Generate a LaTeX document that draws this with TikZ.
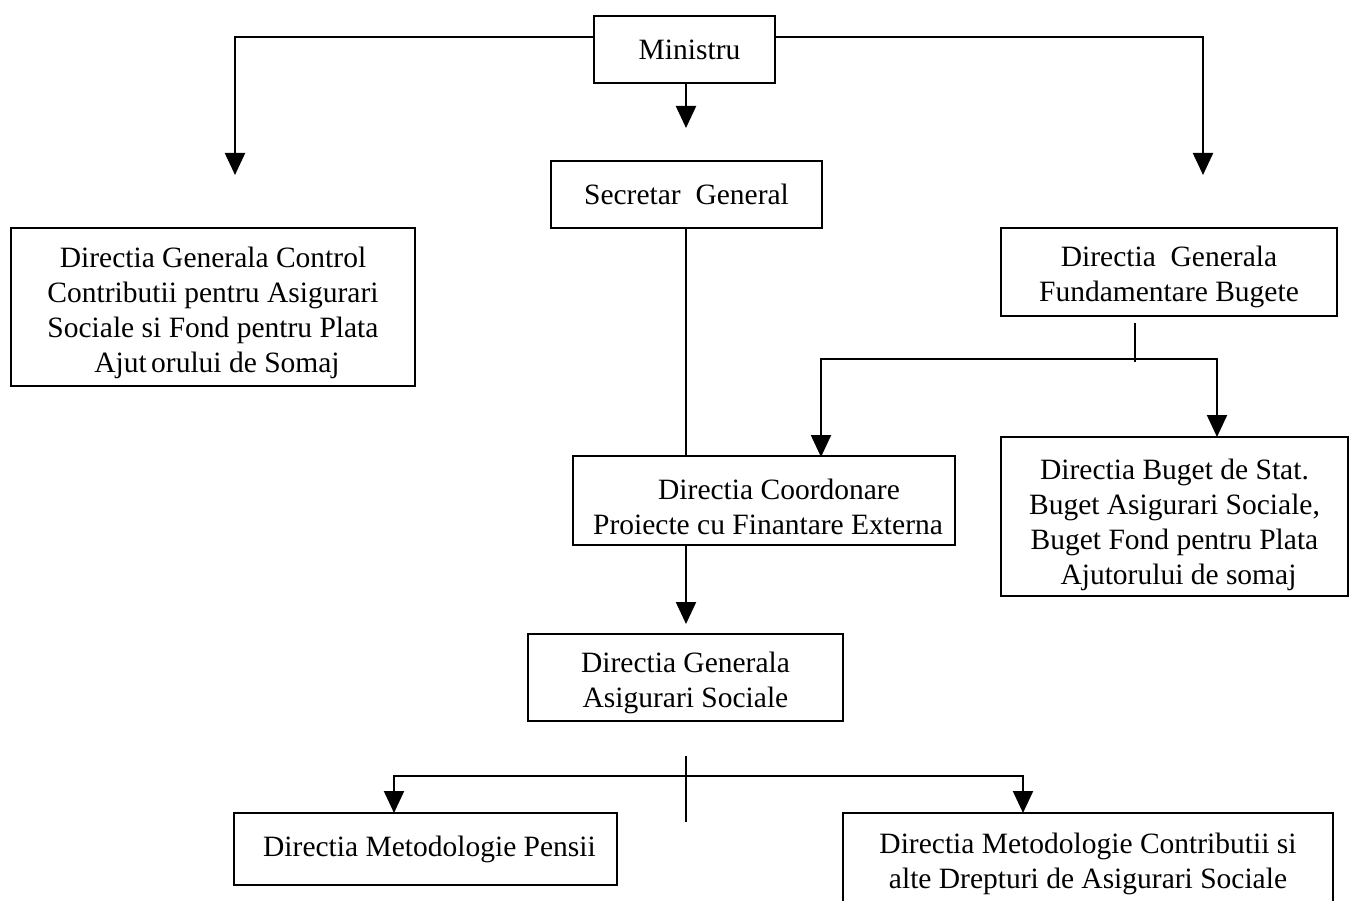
\documentclass[tikz,border=0pt]{standalone}
\usepackage{fontspec}
\setmainfont{Liberation Serif}
\usetikzlibrary{arrows.meta}
\newcommand\dl[2][-6pt]{\raisebox{#1}[\height][\depth]{#2}}
\begin{document}
\begin{tikzpicture}[x=1pt,y=-1pt,
  box/.style={draw, line width=2.2pt, inner sep=0pt, align=center,
    font=\fontsize{29.5}{35}\selectfont},
  ln/.style={line width=2.2pt},
  arr/.style={line width=2.2pt, -{Triangle[width=20pt,length=22pt]}}]
\useasboundingbox (0,0) rectangle (1349,901);
\clip (0,0) rectangle (1349,901);

% boxes
\node[box, minimum width=181pt, minimum height=67pt] (min) at (684.5,49.5) {\hspace{10pt}Ministru};
\node[box, minimum width=271pt, minimum height=67pt] (sec) at (686.5,194.5) {Secretar~ General};
\node[box, minimum width=404pt, minimum height=158pt] (ctrl) at (213,307)
  {\dl{Directia Generala Control}\\\dl{Contributii pentru Asigurari}\\\dl{Sociale si Fond pentru Plata}\\\dl{\hspace{8pt}Ajut\hspace{0.15em}orului de Somaj}};
\node[box, minimum width=336pt, minimum height=88pt] (fund) at (1169,272)
  {\dl[-5pt]{Directia~ Generala}\\\dl[-5pt]{Fundamentare Bugete}};
\node[box, minimum width=382pt, minimum height=89pt] (coord) at (764,500.5)
  {\dl[-6pt]{\hspace{30pt}Directia Coordonare}\\\dl[-6pt]{\hspace{8pt}Proiecte cu Finantare Externa}};
\node[box, minimum width=347pt, minimum height=159pt] (buget) at (1174.5,516.5)
  {\dl[-8pt]{Directia Buget de Stat.}\\\dl[-8pt]{Buget Asigurari Sociale,}\\\dl[-8pt]{Buget Fond pentru Plata}\\\dl[-8pt]{\hspace{8pt}Ajutorului de somaj}};
\node[box, minimum width=315pt, minimum height=87pt] (dgas) at (685.5,677.5)
  {\dl[-5pt]{Directia Generala}\\\dl[-5pt]{Asigurari Sociale}};
\node[box, minimum width=383pt, minimum height=72pt] (pens) at (425.5,849)
  {\hspace{8pt}Directia Metodologie Pensii};
\node[box, minimum width=490pt, minimum height=96pt] (contr) at (1088,861)
  {\dl[-3pt]{Directia Metodologie Contributii si}\\\dl[-3pt]{alte Drepturi de Asigurari Sociale}};

% coordinates
\coordinate (ltip) at (235,175);
\coordinate (rtip) at (1203,175);
\coordinate (stip) at (686,128);
\coordinate (ftop) at (1135,323);
\coordinate (fbot) at (1135,362);
\coordinate (fj) at (1135,359);
\coordinate (ctip) at (821,457);
\coordinate (btip) at (1217,437);
\coordinate (gtip) at (686,624);
\coordinate (bt) at (686,756);
\coordinate (bb) at (686,822);
\coordinate (bj) at (686,776);
\coordinate (ptip) at (394,813);
\coordinate (mtip) at (1023,813);

% connectors
\draw[arr] ([yshift=12.5pt]min.west) -| (ltip);
\draw[arr] ([yshift=12.5pt]min.east) -| (rtip);
\draw[arr] (min.south -| stip) -- (stip);
\draw[ln] (sec.south -| stip) -- (coord.north -| stip);
\draw[ln] (ftop) -- (fbot);
\draw[arr] (fj) -| (ctip);
\draw[arr] (fj) -| (btip);
\draw[arr] (coord.south -| gtip) -- (gtip);
\draw[ln] (bt) -- (bb);
\draw[arr] (bj) -| (ptip);
\draw[arr] (bj) -| (mtip);
\end{tikzpicture}
\end{document}
